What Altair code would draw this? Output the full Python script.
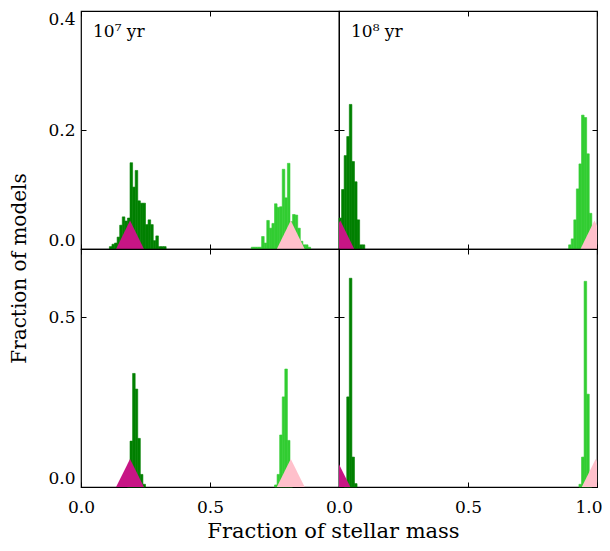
import altair as alt
import pandas as pd

BIN_W = 0.01
PANEL_W, PANEL_H = 258, 238
FONT = "DejaVu Serif"

DARK = "#008000"
LIGHT = "#32CD32"
MAGENTA = "#C71585"
PINK = "#FFC0CB"

# ---- histogram data (left bin edge of the first bin, then bar heights) ----
tl_dark_start = 0.11
tl_dark_h = [0.004, 0.008, 0.010, 0.020, 0.040, 0.054, 0.047, 0.052, 0.145, 0.104,
             0.132, 0.081, 0.077, 0.077, 0.041, 0.049, 0.041, 0.014, 0.022, 0.004,
             0.004, 0.004]
tl_light_start = 0.66
tl_light_h = [0.003, 0.003, 0.003, 0.003, 0.021, 0.010, 0.048, 0.035, 0.043, 0.076,
              0.070, 0.071, 0.134, 0.086, 0.144, 0.046, 0.058, 0.057, 0.035, 0.013,
              0.007, 0.007, 0.003]

tr_dark_start = 0.00
tr_dark_h = [0.052, 0.100, 0.157, 0.189, 0.243, 0.147, 0.113, 0.049, 0.007, 0.007]
tr_light_start = 0.89
tr_light_h = [0.007, 0.017, 0.049, 0.101, 0.143, 0.225, 0.221, 0.160, 0.060, 0.020]

bl_dark_start = 0.18
bl_dark_h = [0.020, 0.135, 0.334, 0.288, 0.143, 0.037, 0.008]
bl_light_start = 0.75
bl_light_h = [0.006, 0.037, 0.153, 0.265, 0.347, 0.137, 0.020]

br_dark_start = 0.02
br_dark_h = [0.020, 0.265, 0.614, 0.088, 0.010]
br_light_start = 0.93
br_light_h = [0.008, 0.088, 0.605, 0.273, 0.020]

# ---- marker triangles: centre, half width, height ----
tri_half_w = 0.054
tl_tri = [0.19, 0.813]
tr_tri = [0.005, 0.99]
bl_tri = [0.19, 0.813]
br_tri = [-0.01, 0.995]
tri_h_top = 0.048
tri_h_bottom = 0.082

ymax_top, ymax_bottom = 0.4, 0.7
yticks_top = [0.0, 0.2, 0.4]
yticks_bottom = [0.0, 0.5]
xticks_all = [0.0, 0.5, 1.0]
xlabels_left = [0.0, 0.5]
xlabels_right = [0.0, 0.5]
xlabels_right_end = [1.0]

age_labels = ["10\u2077 yr", "10\u2078 yr"]


def bars_df(start, heights):
    x0 = [round(start + i * BIN_W, 4) for i in range(len(heights))]
    x1 = [round(v + BIN_W, 4) for v in x0]
    return pd.DataFrame({"x0": x0, "x1": x1, "h": heights})


def tri_df(center, h):
    return pd.DataFrame({"x": [center - tri_half_w, center, center + tri_half_w],
                         "y": [0.0, h, 0.0]})


def tick_axis(orient, offset, values):
    return alt.Axis(orient=orient, offset=offset, values=values, labels=False,
                    domain=False, ticks=True, tickSize=5, tickColor="black",
                    tickWidth=1, grid=False)


def label_axis_kw(values, flush):
    return dict(orient="bottom", values=values, format=".1f", tickSize=0,
                domain=False, grid=False, labelFont=FONT, labelFontSize=17,
                labelColor="black", labelPadding=12, labelFlush=flush)


def panel(dark_start, dark_h, light_start, light_h, tris, tri_h, ymax, yticks,
          label, left, bottom, xlabels, end_labels=None, ytitle=False, xtitle=False):
    xs = alt.Scale(domain=[0, 1], nice=False, zero=False)
    ys = alt.Scale(domain=[0, ymax], nice=False, zero=True)

    if bottom:
        xkw = label_axis_kw(xlabels, False)
        if xtitle:
            xkw.update(titleFont=FONT, titleFontSize=21, titleFontWeight="normal",
                       titleColor="black", titleX=252, titleY=50,
                       titleBaseline="alphabetic", titleAlign="center")
        xmain = alt.X("x0:Q", scale=xs, axis=alt.Axis(**xkw),
                      title="Fraction of stellar mass" if xtitle else None)
    else:
        xmain = alt.X("x0:Q", scale=xs, axis=None)

    if left:
        ykw = dict(orient="left", values=yticks, format=".1f", tickSize=0,
                   domain=False, grid=False, labelFont=FONT, labelFontSize=17,
                   labelColor="black", labelPadding=6, labelFlush=True)
        if ytitle:
            ykw.update(titleFont=FONT, titleFontSize=20, titleFontWeight="normal",
                       titleColor="black", titleAngle=270, titleX=-62, titleY=257,
                       titleAlign="center", titleBaseline="middle")
        ymain = alt.Y("h:Q", scale=ys, axis=alt.Axis(**ykw),
                      title="Fraction of models" if ytitle else None)
    else:
        ymain = alt.Y("h:Q", scale=ys, axis=None)

    dark = alt.Chart(bars_df(dark_start, dark_h)).mark_rect(
        color=DARK, stroke=DARK, strokeWidth=0.6).encode(
        x=xmain, x2="x1:Q", y=ymain, y2=alt.datum(0))

    light = alt.Chart(bars_df(light_start, light_h)).mark_rect(
        color=LIGHT, stroke=LIGHT, strokeWidth=0.6).encode(
        x=alt.X("x0:Q", scale=xs, axis=tick_axis("top", -PANEL_H, xticks_all), title=None),
        x2="x1:Q",
        y=alt.Y("h:Q", scale=ys, axis=tick_axis("right", -PANEL_W, yticks), title=None),
        y2=alt.datum(0))

    mag = alt.Chart(tri_df(tris[0], tri_h)).mark_area(color=MAGENTA, clip=True).encode(
        x=alt.X("x:Q", scale=xs, axis=tick_axis("bottom", -PANEL_H, xticks_all), title=None),
        y=alt.Y("y:Q", scale=ys, axis=tick_axis("left", -PANEL_W, yticks), title=None))

    if end_labels:
        pink_x = alt.X("x:Q", scale=xs, title=None,
                       axis=alt.Axis(labelFlushOffset=5, **label_axis_kw(end_labels, True)))
    else:
        pink_x = alt.X("x:Q", scale=xs, axis=None)
    pink = alt.Chart(tri_df(tris[1], tri_h)).mark_area(color=PINK, clip=True).encode(
        x=pink_x,
        y=alt.Y("y:Q", scale=ys, axis=None))

    layers = [dark, light, mag, pink]
    if label:
        txt = alt.Chart(pd.DataFrame({"t": [label]})).mark_text(
            align="left", baseline="alphabetic", font=FONT, fontSize=17,
            color="black").encode(text="t:N", x=alt.value(12), y=alt.value(26))
        layers.append(txt)

    return alt.layer(*layers).resolve_axis(x="independent", y="independent").properties(
        width=PANEL_W, height=PANEL_H)


tl = panel(tl_dark_start, tl_dark_h, tl_light_start, tl_light_h, tl_tri, tri_h_top,
           ymax_top, yticks_top, age_labels[0], True, False, None, ytitle=True)
tr = panel(tr_dark_start, tr_dark_h, tr_light_start, tr_light_h, tr_tri, tri_h_top,
           ymax_top, yticks_top, age_labels[1], False, False, None)
bl = panel(bl_dark_start, bl_dark_h, bl_light_start, bl_light_h, bl_tri, tri_h_bottom,
           ymax_bottom, yticks_bottom, None, True, True, xlabels_left, xtitle=True)
br = panel(br_dark_start, br_dark_h, br_light_start, br_light_h, br_tri, tri_h_bottom,
           ymax_bottom, yticks_bottom, None, False, True, xlabels_right,
           end_labels=xlabels_right_end)

chart = alt.concat(tl, tr, bl, br, columns=2, spacing=0, bounds="flush").properties(
    autosize=alt.AutoSizeParams(type="none"),
    padding={"top": 3, "left": 73, "right": 521, "bottom": 532},
    background="white"
).configure_view(stroke="black", strokeWidth=1.2)

chart.save("out.html", embed_options={"renderer": "svg", "actions": False})
